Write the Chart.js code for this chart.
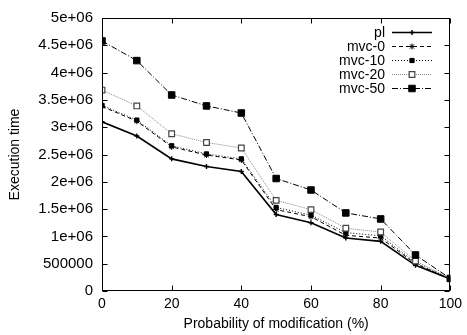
<!DOCTYPE html>
<html><head><meta charset="utf-8">
<script src="https://cdn.jsdelivr.net/npm/chart.js@4/dist/chart.umd.min.js"></script>
<style>html,body{margin:0;padding:0;background:#fff}</style>
</head><body>
<canvas id="c" width="467" height="335" style="width:467px;height:335px;display:block"></canvas>
<script>
// ---- data ----
const xValues = [0, 10, 20, 30, 40, 50, 60, 70, 80, 90, 100];
const seriesNames = ['pl', 'mvc-0', 'mvc-10', 'mvc-20', 'mvc-50'];
const plValues    = [3100000, 2840000, 2420000, 2280000, 2190000, 1400000, 1250000, 970000, 910000, 470000, 220000];
const mvc0Values  = [3380000, 3110000, 2640000, 2490000, 2400000, 1490000, 1360000, 1020000, 970000, 500000, 220000];
const mvc10Values = [3400000, 3130000, 2660000, 2510000, 2420000, 1530000, 1390000, 1070000, 1010000, 520000, 220000];
const mvc20Values = [3680000, 3390000, 2880000, 2720000, 2620000, 1660000, 1490000, 1150000, 1080000, 550000, 230000];
const mvc50Values = [4580000, 4220000, 3590000, 3390000, 3260000, 2060000, 1850000, 1430000, 1320000, 660000, 230000];
const xTickLabels = ['0', '20', '40', '60', '80', '100'];
const yTickLabels = ['0', '500000', '1e+06', '1.5e+06', '2e+06', '2.5e+06', '3e+06', '3.5e+06', '4e+06', '4.5e+06', '5e+06'];
const xTitle = 'Probability of modification (%)';
const yTitle = 'Execution time';

const FONT = "'Liberation Sans', Arial, sans-serif";
const allValues = [plValues, mvc0Values, mvc10Values, mvc20Values, mvc50Values];
const styles = [
  {borderColor:'#000', borderWidth:1.7, borderDash:[], pointStyle:'cross', pointRadius:2.5, backgroundColor:'#000', pointBorderWidth:1.4},
  {borderColor:'#000', borderWidth:1, borderDash:[4,3], pointStyle:'star', pointRadius:3, backgroundColor:'#000', pointBorderWidth:1},
  {borderColor:'#000', borderWidth:1, borderDash:[1,2], pointStyle:'rect', pointRadius:3, backgroundColor:'#000', pointBorderWidth:1},
  {borderColor:'#888', borderWidth:1, borderDash:[1,1], pointStyle:'rect', pointRadius:4, backgroundColor:'#fff', pointBorderWidth:1.2, pointBorderColor:'#444'},
  {borderColor:'#000', borderWidth:1, borderDash:[6,2,1,2], pointStyle:'rect', pointRadius:4.6, backgroundColor:'#000', pointBorderWidth:1}
];

const datasets = seriesNames.map((name, i) => {
  const s = styles[i];
  return {
    label: name,
    data: xValues.map((x, j) => ({x: x, y: allValues[i][j]})),
    borderColor: s.borderColor,
    borderWidth: s.borderWidth,
    borderDash: s.borderDash,
    backgroundColor: s.backgroundColor,
    pointStyle: s.pointStyle,
    pointRadius: s.pointRadius,
    pointBorderWidth: s.pointBorderWidth,
    pointBorderColor: s.pointBorderColor || s.borderColor,
    pointBackgroundColor: s.backgroundColor,
    fill: false,
    tension: 0,
    order: 5 - i
  };
});

function drawMarker(ctx, ds, x, y) {
  const r = ds.pointRadius;
  ctx.save();
  ctx.setLineDash([]);
  ctx.lineWidth = ds.pointBorderWidth;
  ctx.strokeStyle = ds.pointBorderColor;
  ctx.fillStyle = ds.pointBackgroundColor;
  ctx.beginPath();
  if (ds.pointStyle === 'rect') {
    const s = Math.SQRT1_2 * r;
    ctx.rect(x - s, y - s, 2 * s, 2 * s);
    ctx.fill(); ctx.stroke();
  } else if (ds.pointStyle === 'cross') {
    ctx.moveTo(x - r, y); ctx.lineTo(x + r, y);
    ctx.moveTo(x, y - r); ctx.lineTo(x, y + r);
    ctx.stroke();
  } else if (ds.pointStyle === 'star') {
    ctx.moveTo(x - r, y); ctx.lineTo(x + r, y);
    ctx.moveTo(x, y - r); ctx.lineTo(x, y + r);
    const d = r * Math.SQRT1_2;
    ctx.moveTo(x - d, y - d); ctx.lineTo(x + d, y + d);
    ctx.moveTo(x - d, y + d); ctx.lineTo(x + d, y - d);
    ctx.stroke();
  }
  ctx.restore();
}

const framePlugin = {
  id: 'gnuframe',
  afterDatasetsDraw(chart) {
    const {ctx, chartArea: a, scales: {x, y}} = chart;
    const L = Math.round(a.left) + 0.5, R = Math.round(a.right) - 0.5;
    const T = Math.round(a.top) + 0.5, B = Math.round(a.bottom) - 0.5;
    ctx.save();
    ctx.strokeStyle = '#000';
    ctx.lineWidth = 1;
    ctx.setLineDash([]);
    ctx.beginPath();
    x.ticks.forEach(t => {
      const px = Math.round(x.getPixelForValue(t.value)) + 0.5;
      ctx.moveTo(px, B); ctx.lineTo(px, B - 5);
      ctx.moveTo(px, T); ctx.lineTo(px, T + 5);
    });
    y.ticks.forEach(t => {
      const py = Math.round(y.getPixelForValue(t.value)) + 0.5;
      ctx.moveTo(L, py); ctx.lineTo(L + 5, py);
      ctx.moveTo(R, py); ctx.lineTo(R - 5, py);
    });
    ctx.stroke();
    ctx.strokeRect(L, T, R - L, B - T);

    // legend (top right, inside the plot)
    ctx.font = '14px ' + FONT;
    ctx.fillStyle = '#000';
    ctx.textAlign = 'right';
    ctx.textBaseline = 'middle';
    chart.data.datasets.forEach((ds, i) => {
      const ly = Math.round(a.top) + 14 + i * 14;
      const tx = Math.round(a.right) - 65;
      ctx.fillText(ds.label, tx, ly + 1);
      const x0 = Math.round(a.right) - 58, x1 = Math.round(a.right) - 18;
      ctx.save();
      ctx.strokeStyle = ds.borderColor;
      ctx.lineWidth = ds.borderWidth;
      ctx.setLineDash(ds.borderDash);
      ctx.beginPath();
      ctx.moveTo(x0, ly + 0.5); ctx.lineTo(x1, ly + 0.5);
      ctx.stroke();
      ctx.restore();
      drawMarker(ctx, ds, (x0 + x1) / 2, ly + 0.5);
    });
    ctx.restore();
  }
};

new Chart(document.getElementById('c'), {
  type: 'line',
  data: {datasets: datasets},
  plugins: [framePlugin],
  options: {
    responsive: false,
    animation: false,
    devicePixelRatio: 1,
    layout: {padding: {top: 15, right: 11, left: 0, bottom: 0}},
    plugins: {legend: {display: false}, tooltip: {enabled: false}},
    scales: {
      x: {
        type: 'linear', min: 0, max: 100,
        grid: {display: false, drawTicks: false},
        border: {display: false},
        afterFit(scale) { scale.height = 44; },
        afterBuildTicks(scale) { scale.ticks = xTickLabels.map(v => ({value: Number(v)})); },
        ticks: {
          autoSkip: false, maxRotation: 0, padding: 5, color: '#000',
          font: {family: FONT, size: 14},
          callback: (v, i) => xTickLabels[i]
        },
        title: {display: true, text: xTitle, color: '#000', font: {family: FONT, size: 14}, padding: {top: 0, bottom: 2}}
      },
      y: {
        type: 'linear', min: 0, max: 5000000,
        grid: {display: false, drawTicks: false},
        border: {display: false},
        afterFit(scale) { scale.width = 102; },
        afterBuildTicks(scale) { scale.ticks = yTickLabels.map((l, i) => ({value: i * 500000})); },
        ticks: {
          autoSkip: false, padding: 9, color: '#000',
          font: {family: FONT, size: 15},
          callback: (v, i) => yTickLabels[i]
        },
        title: {display: true, text: yTitle, color: '#000', font: {family: FONT, size: 14}, padding: {top: 7, bottom: 0}}
      }
    }
  }
});
</script>
</body></html>
